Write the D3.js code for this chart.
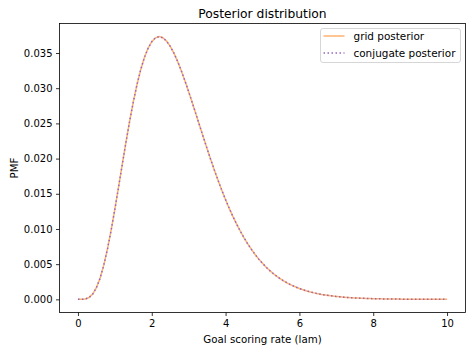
<!DOCTYPE html>
<html>
<head>
<meta charset="utf-8">
<script src="https://cdn.jsdelivr.net/npm/d3@7"></script>
<style>
  body { margin: 0; background: #fff; }
  svg { font-family: "DejaVu Sans", sans-serif; }
</style>
</head>
<body>
<div id="chart"></div>
<script>
// goal scoring rate grid
const lams = [
  0.0, 0.1, 0.2, 0.3, 0.4, 0.5, 0.6, 0.7, 0.8, 0.9,
  1.0, 1.1, 1.2, 1.3, 1.4, 1.5, 1.6, 1.7, 1.8, 1.9,
  2.0, 2.1, 2.2, 2.3, 2.4, 2.5, 2.6, 2.7, 2.8, 2.9,
  3.0, 3.1, 3.2, 3.3, 3.4, 3.5, 3.6, 3.7, 3.8, 3.9,
  4.0, 4.1, 4.2, 4.3, 4.4, 4.5, 4.6, 4.7, 4.8, 4.9,
  5.0, 5.1, 5.2, 5.3, 5.4, 5.5, 5.6, 5.7, 5.8, 5.9,
  6.0, 6.1, 6.2, 6.3, 6.4, 6.5, 6.6, 6.7, 6.8, 6.9,
  7.0, 7.1, 7.2, 7.3, 7.4, 7.5, 7.6, 7.7, 7.8, 7.9,
  8.0, 8.1, 8.2, 8.3, 8.4, 8.5, 8.6, 8.7, 8.8, 8.9,
  9.0, 9.1, 9.2, 9.3, 9.4, 9.5, 9.6, 9.7, 9.8, 9.9, 10.0
];

const gridPosterior = [
  0, 3.09e-6, 5.33e-5, 2.60e-4, 7.55e-4, 1.650e-3, 3.013e-3, 4.860e-3, 7.161e-3, 9.844e-3,
  0.012814, 0.015956, 0.019157, 0.022307, 0.025304, 0.028065, 0.030522, 0.032630, 0.034354, 0.035681,
  0.036610, 0.037151, 0.037325, 0.037161, 0.036691, 0.035950, 0.034977, 0.033811, 0.032485, 0.031037,
  0.029498, 0.027900, 0.026268, 0.024624, 0.022991, 0.021384, 0.019818, 0.018304, 0.016852, 0.015468,
  0.014157, 0.012920, 0.011762, 0.010680, 0.009675, 0.008744, 0.007886, 0.007097, 0.006375, 0.005715,
  0.005114, 0.004568, 0.004074, 0.003627, 0.003224, 0.002861, 0.002536, 0.002245, 0.001984, 0.001751,
  0.001544, 0.001359, 0.001195, 0.001050, 9.21e-4, 8.08e-4, 7.07e-4, 6.19e-4, 5.41e-4, 4.72e-4,
  4.12e-4, 3.59e-4, 3.12e-4, 2.72e-4, 2.36e-4, 2.05e-4, 1.78e-4, 1.54e-4, 1.34e-4, 1.16e-4,
  1.00e-4, 8.67e-5, 7.49e-5, 6.47e-5, 5.58e-5, 4.82e-5, 4.15e-5, 3.58e-5, 3.08e-5, 2.65e-5,
  2.28e-5, 1.96e-5, 1.68e-5, 1.44e-5, 1.24e-5, 1.06e-5, 9.1e-6, 7.8e-6, 6.7e-6, 5.7e-6, 4.9e-6
];

// the conjugate posterior lies right on top of the grid one
const conjugatePosterior = [
  0, 3.09e-6, 5.33e-5, 2.60e-4, 7.55e-4, 1.650e-3, 3.013e-3, 4.860e-3, 7.161e-3, 9.844e-3,
  0.012814, 0.015956, 0.019157, 0.022307, 0.025304, 0.028065, 0.030522, 0.032630, 0.034354, 0.035681,
  0.036610, 0.037151, 0.037325, 0.037161, 0.036691, 0.035950, 0.034977, 0.033811, 0.032485, 0.031037,
  0.029498, 0.027900, 0.026268, 0.024624, 0.022991, 0.021384, 0.019818, 0.018304, 0.016852, 0.015468,
  0.014157, 0.012920, 0.011762, 0.010680, 0.009675, 0.008744, 0.007886, 0.007097, 0.006375, 0.005715,
  0.005114, 0.004568, 0.004074, 0.003627, 0.003224, 0.002861, 0.002536, 0.002245, 0.001984, 0.001751,
  0.001544, 0.001359, 0.001195, 0.001050, 9.21e-4, 8.08e-4, 7.07e-4, 6.19e-4, 5.41e-4, 4.72e-4,
  4.12e-4, 3.59e-4, 3.12e-4, 2.72e-4, 2.36e-4, 2.05e-4, 1.78e-4, 1.54e-4, 1.34e-4, 1.16e-4,
  1.00e-4, 8.67e-5, 7.49e-5, 6.47e-5, 5.58e-5, 4.82e-5, 4.15e-5, 3.58e-5, 3.08e-5, 2.65e-5,
  2.28e-5, 1.96e-5, 1.68e-5, 1.44e-5, 1.24e-5, 1.06e-5, 9.1e-6, 7.8e-6, 6.7e-6, 5.7e-6, 4.9e-6
];

const xTicks = [0, 2, 4, 6, 8, 10];
const yTicks = [0, 0.005, 0.010, 0.015, 0.020, 0.025, 0.030, 0.035];

const seriesNames = ["grid posterior", "conjugate posterior"];

var W = 472, H = 352;
var margin = { top: 23.5, right: 6.5, bottom: 39.5, left: 59.5 },
    width = W - margin.left - margin.right,
    height = H - margin.top - margin.bottom;

const orange = "#ff7f0e", purple = "#9467bd", ink = "#000";

const svg = d3.select("#chart").append("svg")
    .attr("width", W)
    .attr("height", H);

const g = svg.append("g")
    .attr("transform", `translate(${margin.left},${margin.top})`);

const yMax = d3.max(gridPosterior);
const x = d3.scaleLinear().domain([-0.5, 10.5]).range([0, width]);
const y = d3.scaleLinear().domain([-0.05 * yMax, 1.05 * yMax]).range([height, 0]);

// axes
const xAxis = g.append("g")
    .attr("transform", `translate(0,${height})`)
    .call(d3.axisBottom(x).tickValues(xTicks).tickSize(3.5).tickPadding(3.5).tickFormat(d3.format("d")));

const yAxis = g.append("g")
    .call(d3.axisLeft(y).tickValues(yTicks).tickSize(3.5).tickPadding(3.5).tickFormat(d3.format(".3f")));

[xAxis, yAxis].forEach(a => {
    a.select(".domain").remove();
    a.selectAll("line").attr("stroke", ink).attr("stroke-width", 0.8);
    a.selectAll("text").attr("fill", ink).style("font-size", "10px").style("font-family", "DejaVu Sans");
});

// lines
const line = d3.line()
    .x((d, i) => x(lams[i]))
    .y(d => y(d));

g.append("path")
    .datum(gridPosterior)
    .attr("d", line)
    .attr("fill", "none")
    .attr("stroke", orange)
    .attr("stroke-opacity", 0.6)
    .attr("stroke-width", 1.5);

g.append("path")
    .datum(conjugatePosterior)
    .attr("d", line)
    .attr("fill", "none")
    .attr("stroke", purple)
    .attr("stroke-width", 1.5)
    .attr("stroke-dasharray", "1.5,2.5");

// frame
g.append("rect")
    .attr("width", width)
    .attr("height", height)
    .attr("fill", "none")
    .attr("stroke", ink)
    .attr("stroke-width", 0.8);

// title and labels
svg.append("text")
    .attr("x", margin.left + width / 2)
    .attr("y", 18)
    .attr("text-anchor", "middle")
    .style("font-size", "12.3px")
    .text("Posterior distribution");

svg.append("text")
    .attr("x", margin.left + width / 2)
    .attr("y", 343)
    .attr("text-anchor", "middle")
    .style("font-size", "10.25px")
    .text("Goal scoring rate (lam)");

svg.append("text")
    .attr("transform", `translate(18,${margin.top + height / 2}) rotate(-90)`)
    .attr("text-anchor", "middle")
    .style("font-size", "10.25px")
    .text("PMF");

// legend
const legend = svg.append("g")
    .attr("transform", "translate(320.5,28.5)");

legend.append("rect")
    .attr("width", 140)
    .attr("height", 34)
    .attr("rx", 2.5)
    .attr("fill", "#fff")
    .attr("fill-opacity", 0.8)
    .attr("stroke", "#ccc")
    .attr("stroke-width", 0.8);

seriesNames.forEach((name, i) => {
    const row = legend.append("g")
        .attr("transform", `translate(0,${7.5 + i * 17})`);
    const sample = row.append("line")
        .attr("x1", 3).attr("x2", 24)
        .attr("stroke-width", 1.5);
    if (i === 0)
        sample.attr("stroke", orange).attr("stroke-opacity", 0.6);
    else
        sample.attr("stroke", purple).attr("stroke-dasharray", "1.5,2.5");
    row.append("text")
        .attr("x", 33)
        .attr("y", 3.7)
        .style("font-size", "10.45px")
        .text(name);
});
</script>
</body>
</html>
